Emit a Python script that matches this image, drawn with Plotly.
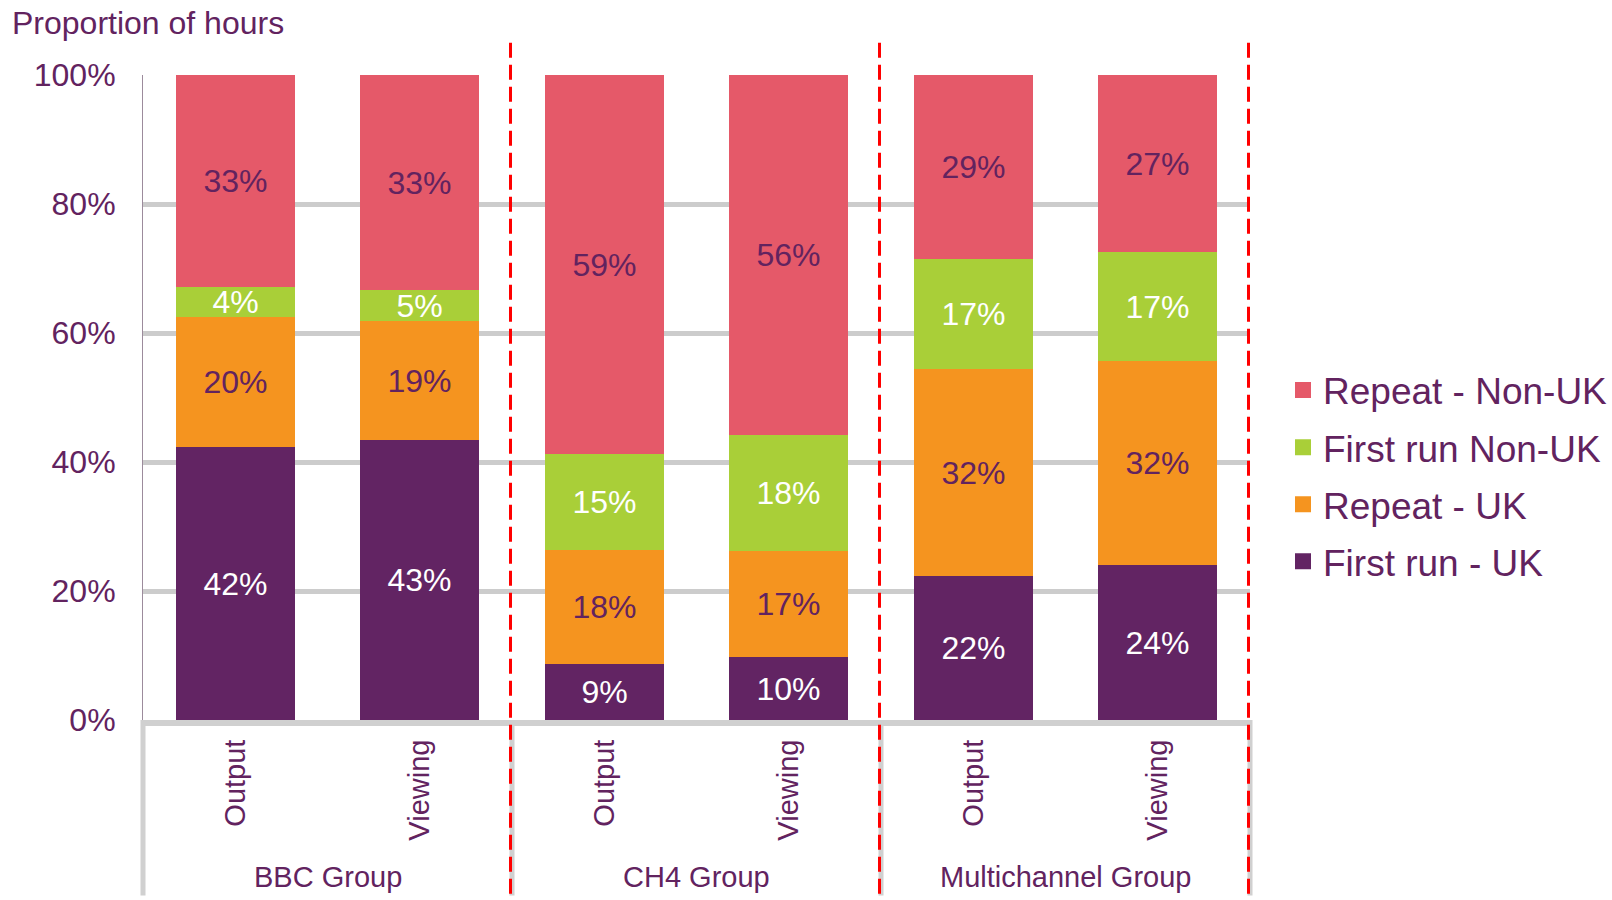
import plotly.graph_objects as go

# ---- data ----
group_names = ["BBC Group", "CH4 Group", "Multichannel Group"]
measures = ["Output", "Viewing"]
series_names = ["First run - UK", "Repeat - UK", "First run Non-UK", "Repeat - Non-UK"]

first_run_uk = [42.3, 43.4, 8.7, 9.7, 22.4, 24.0]
repeat_uk = [20.2, 18.5, 17.7, 16.5, 32.0, 31.7]
first_run_non_uk = [4.6, 4.8, 14.8, 18.0, 17.1, 16.9]
repeat_non_uk = [32.9, 33.3, 58.8, 55.8, 28.5, 27.4]

first_run_uk_lbl = ["42%", "43%", "9%", "10%", "22%", "24%"]
repeat_uk_lbl = ["20%", "19%", "18%", "17%", "32%", "32%"]
first_run_non_uk_lbl = ["4%", "5%", "15%", "18%", "17%", "17%"]
repeat_non_uk_lbl = ["33%", "33%", "59%", "56%", "29%", "27%"]

y_ticks = [0, 20, 40, 60, 80, 100]
y_tick_text = ["0%", "20%", "40%", "60%", "80%", "100%"]

# ---- styles ----
FONT = "Arial, Liberation Sans, sans-serif"
PURPLE_TXT = "#62235F"
colors = {
    "First run - UK": "#622463",
    "Repeat - UK": "#F5941F",
    "First run Non-UK": "#A9CF38",
    "Repeat - Non-UK": "#E55969",
}
label_colors = {
    "First run - UK": "white",
    "Repeat - UK": PURPLE_TXT,
    "First run Non-UK": "white",
    "Repeat - Non-UK": PURPLE_TXT,
}

tick_text = [m for g in group_names for m in measures]
x = list(range(len(tick_text)))
n_per_group = len(measures)
n_cats = len(x)

fig = go.Figure()
series_vals = [first_run_uk, repeat_uk, first_run_non_uk, repeat_non_uk]
series_lbls = [first_run_uk_lbl, repeat_uk_lbl, first_run_non_uk_lbl, repeat_non_uk_lbl]
for name, vals, lbls in zip(series_names, series_vals, series_lbls):
    fig.add_trace(go.Bar(
        x=x, y=vals, name=name, text=lbls,
        textposition="inside", insidetextanchor="middle",
        textangle=0, constraintext="none",
        textfont=dict(family=FONT, size=32, color=label_colors[name]),
        marker=dict(color=colors[name], line=dict(width=0)),
        width=0.645, showlegend=False, hoverinfo="skip",
    ))

# legend entries (larger square swatches), top-to-bottom order
for name in reversed(series_names):
    fig.add_trace(go.Scatter(
        x=[None], y=[None], mode="markers", name=name, legendgroup=name,
        marker=dict(symbol="square", size=16, color=colors[name]),
    ))

L, R, T, B = 143, 362, 75, 180
PW = 1612 - L - R
fig.update_layout(
    width=1612, height=900,
    margin=dict(l=L, r=R, t=T, b=B, pad=0, autoexpand=False),
    barmode="stack", bargap=0,
    plot_bgcolor="white", paper_bgcolor="white",
    font=dict(family=FONT, color=PURPLE_TXT),
    showlegend=True,
    legend=dict(
        xref="container", yref="container",
        x=1283 / 1612, xanchor="left",
        y=1 - 476 / 900, yanchor="middle",
        font=dict(family=FONT, size=37, color=PURPLE_TXT),
        traceorder="grouped", tracegroupgap=6, itemsizing="trace",
        bgcolor="rgba(0,0,0,0)",
    ),
    title=dict(
        text="Proportion of hours", x=12 / 1612, xanchor="left",
        xref="container", yref="container", y=1 - 12 / 900, yanchor="top",
        font=dict(family=FONT, size=32, color=PURPLE_TXT),
        pad=dict(t=0, b=0, l=0, r=0),
    ),
)
fig.update_yaxes(
    range=[0, 100], tickvals=y_ticks, ticktext=y_tick_text,
    tickfont=dict(family=FONT, size=32, color=PURPLE_TXT),
    showgrid=True, gridcolor="#CCCCCC", gridwidth=5,
    showline=True, linecolor="#9C8B9C", linewidth=1,
    ticks="", ticklabelstandoff=20, zeroline=False,
)
fig.update_xaxes(
    range=[-0.5, n_cats - 0.5], tickvals=x, ticktext=tick_text,
    tickangle=-90, tickfont=dict(family=FONT, size=29, color=PURPLE_TXT),
    showline=True, linecolor="#D0D0D0", linewidth=6,
    ticks="", ticklabelstandoff=2, showgrid=False, zeroline=False,
)

# group labels, grey dividers, red dashed separators
for gi, g in enumerate(group_names):
    center = gi * n_per_group + (n_per_group - 1) / 2
    fig.add_annotation(
        x=center, y=-0.2434, xref="x", yref="paper", text=g, showarrow=False,
        yanchor="middle", font=dict(family=FONT, size=29, color=PURPLE_TXT),
    )
bounds = [gi * n_per_group - 0.5 for gi in range(len(group_names) + 1)]
for b in bounds:
    px = (b + 0.5) / n_cats  # paper fraction of category boundary
    fig.add_shape(type="line", xref="paper", yref="paper", x0=px, x1=px,
                  y0=0, y1=-0.272, line=dict(color="#D0D0D0", width=5), layer="above")
for b in bounds[1:]:
    px = (b + 0.5) / n_cats - 1.5 / PW
    fig.add_shape(type="line", xref="paper", yref="paper", x0=px, x1=px,
                  y0=1.05, y1=-0.3, line=dict(color="#FF0000", width=3, dash="15px,7px"),
                  layer="above")

fig.write_html("out.html")
